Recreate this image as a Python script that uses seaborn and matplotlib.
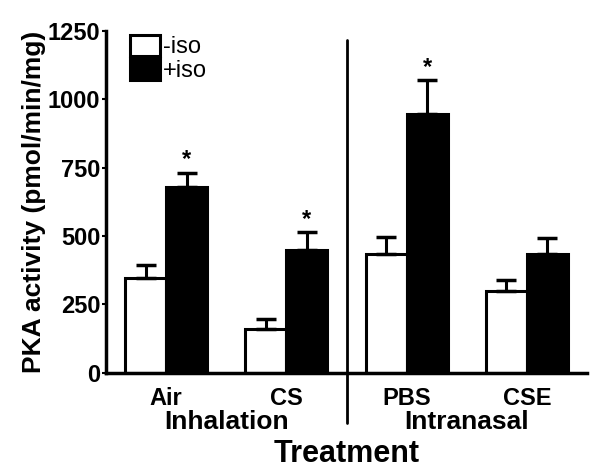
import numpy as np
import pandas as pd
import matplotlib
matplotlib.use("Agg")
import matplotlib.pyplot as plt
import seaborn as sns

# ---- data ----
treatments = ["Air", "CS", "PBS", "CSE"]
conditions = ["-iso", "+iso"]
minus_iso = [345, 160, 435, 300]
plus_iso = [680, 450, 945, 435]
minus_iso_err = [50, 38, 60, 38]
plus_iso_err = [52, 65, 125, 58]
significant = [True, True, True, False]  # asterisk above +iso bar
groups = ["Inhalation", "Intranasal"]

df = pd.DataFrame({
    "treatment": treatments * 2,
    "condition": ["-iso"] * 4 + ["+iso"] * 4,
    "activity": minus_iso + plus_iso,
    "err": minus_iso_err + plus_iso_err,
})

sns.set_style("ticks", {"text.color": "black", "axes.labelcolor": "black",
                        "xtick.color": "black", "ytick.color": "black",
                        "axes.edgecolor": "black"})
plt.rcParams["font.family"] = ["Liberation Sans", "DejaVu Sans"]

fig = plt.figure(figsize=(6.09, 4.75), dpi=100)
ax = fig.add_axes([0.174, 0.215, 0.79, 0.72])

width = 0.68
sns.barplot(data=df, x="treatment", y="activity", hue="condition",
            order=treatments, hue_order=conditions,
            palette={"-iso": "white", "+iso": "black"},
            edgecolor="black", linewidth=2.2, width=width,
            errorbar=None, ax=ax)

# upward-only error bars
x = np.arange(len(treatments))
offs = [-width / 4, width / 4]
for off, vals, errs in zip(offs, [minus_iso, plus_iso], [minus_iso_err, plus_iso_err]):
    ax.errorbar(x + off, vals, yerr=[np.zeros(len(vals)), errs], fmt="none",
                ecolor="black", elinewidth=2.2, capsize=7, capthick=2.5, zorder=1)

for i, sig in enumerate(significant):
    if sig:
        ax.text(x[i] + offs[1], plus_iso[i] + plus_iso_err[i] + 5, "*",
                ha="center", va="bottom", fontsize=17, fontweight="bold")

ax.set_xlim(-0.5, 3.5)
ax.set_ylim(0, 1250)
ax.set_yticks([0, 250, 500, 750, 1000, 1250])
ax.tick_params(axis="y", labelsize=17, length=3, width=1.5, pad=1)
ax.tick_params(axis="x", labelsize=17, length=0, pad=10)
for lab in ax.get_xticklabels() + ax.get_yticklabels():
    lab.set_fontweight("bold")

ax.set_ylabel("PKA activity (pmol/min/mg)", fontsize=19, fontweight="bold", labelpad=1)
ax.set_xlabel("")

sns.despine(ax=ax)
for s in ["left", "bottom"]:
    ax.spines[s].set_linewidth(2.5)

# separator between inhalation and intranasal
ax.plot([1.5, 1.5], [-0.146, 0.974], transform=ax.get_xaxis_transform(),
        color="black", lw=2, clip_on=False)

# group labels
for gx, g in zip([0.5, 2.5], groups):
    ax.text(gx, -0.164, g, transform=ax.get_xaxis_transform(),
            ha="center", va="baseline", fontsize=19, fontweight="bold")
ax.text(1.5, -0.26, "Treatment", transform=ax.get_xaxis_transform(),
        ha="center", va="baseline", fontsize=22, fontweight="bold")

# legend
handles, labels = ax.get_legend_handles_labels()
ax.legend(handles, labels, loc="upper left", bbox_to_anchor=(0.02, 1.03),
          frameon=False, fontsize=17, handlelength=1.3, handleheight=1.0,
          labelspacing=0.0, handletextpad=0.1, borderpad=0.1)

fig.savefig("out.png", dpi=100)
